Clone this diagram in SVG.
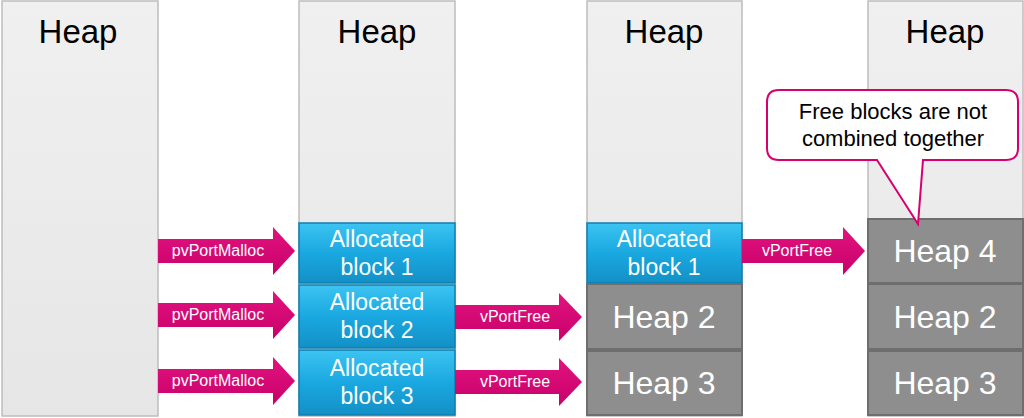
<svg xmlns="http://www.w3.org/2000/svg" width="1024" height="418" viewBox="0 0 1024 418">
<defs>
<linearGradient id="gHeap" x1="0" y1="0" x2="0" y2="1"><stop offset="0" stop-color="#f0f0f0"/><stop offset="1" stop-color="#e6e6e6"/></linearGradient>
<linearGradient id="gBlue" x1="0" y1="0" x2="0" y2="1"><stop offset="0" stop-color="#3cc4f2"/><stop offset="0.5" stop-color="#1aa8e0"/><stop offset="1" stop-color="#1390c6"/></linearGradient>
<linearGradient id="gPink" x1="0" y1="0" x2="0" y2="1"><stop offset="0" stop-color="#e2137f"/><stop offset="1" stop-color="#c8006a"/></linearGradient>
<style>
.heap{fill:url(#gHeap);stroke:#bdbdbd;stroke-width:1.5}
.blue{fill:url(#gBlue);stroke:#0f7fb0;stroke-width:1.5}
.gray{fill:#8e8e8e;stroke:#6e6e6e;stroke-width:2}
.arrow{fill:url(#gPink)}
.title{font-family:"Liberation Sans",Arial,sans-serif;font-size:33px;fill:#000;text-anchor:middle}
.btxt{font-family:"Liberation Sans",Arial,sans-serif;font-size:23px;fill:#fff;text-anchor:middle}
.gtxt{font-family:"Liberation Sans",Arial,sans-serif;font-size:32px;fill:#fff;text-anchor:middle}
.atxt{font-family:"Liberation Sans",Arial,sans-serif;font-size:16px;fill:#fff;text-anchor:middle}
.ctxt{font-family:"Liberation Sans",Arial,sans-serif;font-size:22px;fill:#000;text-anchor:middle}
</style>
</defs>
<rect width="1024" height="418" fill="#fff"/>

<g id="heap1"><rect class="heap" x="2" y="1" width="156" height="415"/><text class="title" x="78" y="43">Heap</text></g>
<g id="heap2"><rect class="heap" x="299" y="1" width="156" height="415"/><text class="title" x="377" y="43">Heap</text></g>
<g id="heap3"><rect class="heap" x="587" y="1" width="155" height="415"/><text class="title" x="664" y="43">Heap</text></g>
<g id="heap4"><rect class="heap" x="868" y="1" width="155" height="415"/><text class="title" x="945" y="43">Heap</text></g>

<g id="h2-block1"><rect class="blue" x="299" y="223" width="156" height="60"/><text class="btxt" x="377" y="247">Allocated</text><text class="btxt" x="377" y="275">block 1</text></g>
<g id="h2-block2"><rect class="blue" x="299" y="285" width="156" height="63"/><text class="btxt" x="377" y="310">Allocated</text><text class="btxt" x="377" y="338">block 2</text></g>
<g id="h2-block3"><rect class="blue" x="299" y="350" width="156" height="65"/><text class="btxt" x="377" y="376">Allocated</text><text class="btxt" x="377" y="404">block 3</text></g>

<g id="h3-block1"><rect class="blue" x="587" y="223" width="155" height="60"/><text class="btxt" x="664" y="247">Allocated</text><text class="btxt" x="664" y="275">block 1</text></g>
<g id="h3-heap2"><rect class="gray" x="587" y="284" width="155" height="65"/><text class="gtxt" x="664" y="328">Heap 2</text></g>
<g id="h3-heap3"><rect class="gray" x="587" y="351" width="155" height="64"/><text class="gtxt" x="664" y="394">Heap 3</text></g>

<g id="h4-heap4"><rect class="gray" x="868" y="219" width="155" height="64"/><text class="gtxt" x="945" y="262">Heap 4</text></g>
<g id="h4-heap2"><rect class="gray" x="868" y="284" width="155" height="65"/><text class="gtxt" x="945" y="328">Heap 2</text></g>
<g id="h4-heap3"><rect class="gray" x="868" y="351" width="155" height="64"/><text class="gtxt" x="945" y="394">Heap 3</text></g>

<g id="callout">
<path d="M779,90 H1006 Q1018,90 1018,102 V148 Q1018,160 1006,160 H923 L918,224 L877,160 H779 Q767,160 767,148 V102 Q767,90 779,90 Z" fill="#fff" stroke="#d6006e" stroke-width="2"/>
<text class="ctxt" x="893" y="119">Free blocks are not</text>
<text class="ctxt" x="893" y="146">combined together</text>
</g>

<g id="connectors">
<g id="a1"><path class="arrow" d="M158,239 H273 V227 L295,251 L273,275 V263 H158 Z"/><text class="atxt" x="218" y="256">pvPortMalloc</text></g>
<g id="a2"><path class="arrow" d="M158,303 H273 V291 L295,315 L273,339 V327 H158 Z"/><text class="atxt" x="218" y="320">pvPortMalloc</text></g>
<g id="a3"><path class="arrow" d="M158,369 H273 V357 L295,381 L273,405 V393 H158 Z"/><text class="atxt" x="218" y="386">pvPortMalloc</text></g>
<g id="a4"><path class="arrow" d="M455,305 H559 V293 L582,317 L559,341 V329 H455 Z"/><text class="atxt" x="515" y="322">vPortFree</text></g>
<g id="a5"><path class="arrow" d="M455,370 H559 V358 L582,382 L559,406 V394 H455 Z"/><text class="atxt" x="515" y="387">vPortFree</text></g>
<g id="a6"><path class="arrow" d="M742,239 H843 V227 L865,251 L843,275 V263 H742 Z"/><text class="atxt" x="797" y="256">vPortFree</text></g>
</g>
</svg>
